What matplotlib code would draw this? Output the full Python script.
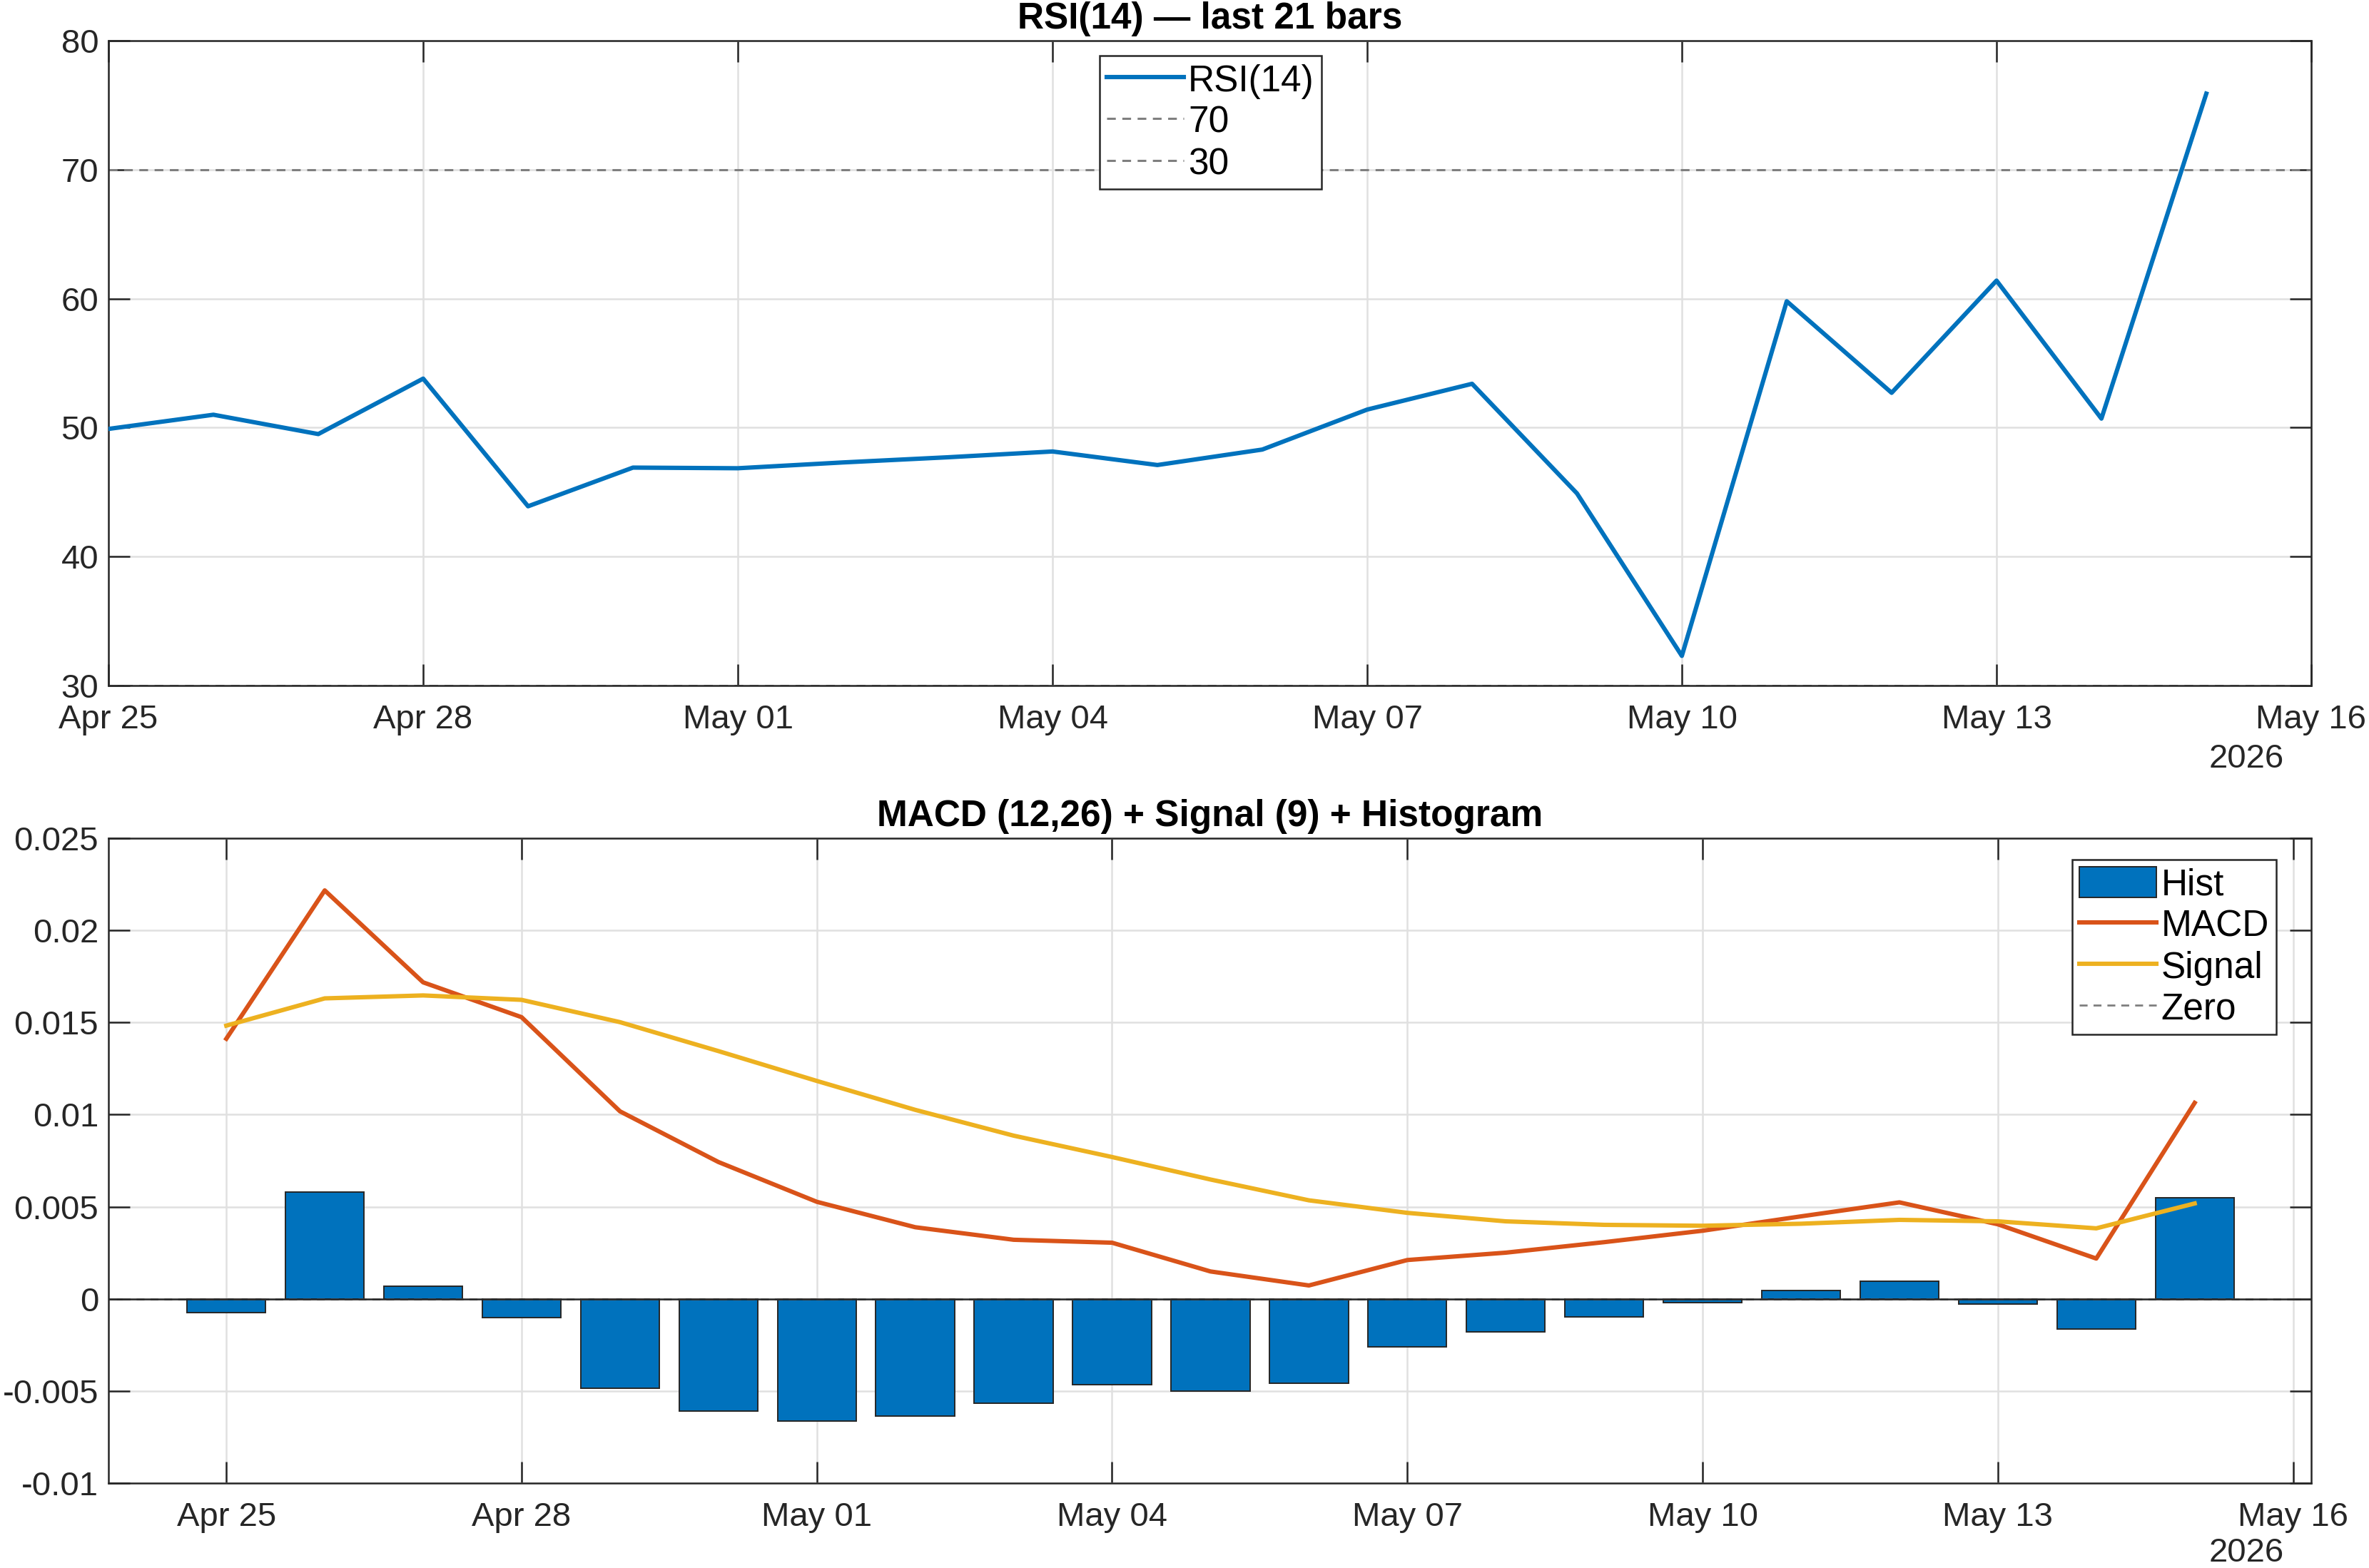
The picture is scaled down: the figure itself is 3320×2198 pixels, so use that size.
import matplotlib
matplotlib.use('Agg')
import matplotlib.pyplot as plt
import matplotlib.dates as mdates
import pandas as pd

plt.rcParams['font.family'] = ['Liberation Sans', 'DejaVu Sans']

# ---------------- data ----------------
dates = pd.date_range('2026-04-25', periods=21, freq='D')
rsi = [49.9, 51.0, 49.5, 53.8, 43.9, 46.9, 46.85, 47.3, 47.7, 48.15, 47.1,
       48.3, 51.4, 53.4, 44.9, 32.3, 59.8, 52.7, 61.4, 50.7, 75.9]
macd = [0.01412, 0.02217, 0.01718, 0.01529, 0.01018, 0.00743, 0.00527,
        0.00389, 0.00321, 0.00305, 0.00149, 0.00073, 0.00211, 0.00251,
        0.00308, 0.00370, 0.00448, 0.00524, 0.00405, 0.00219, 0.01064]
signal = [0.01483, 0.01631, 0.01647, 0.01623, 0.01502, 0.01345, 0.01183,
          0.01026, 0.00886, 0.00770, 0.00648, 0.00535, 0.00467, 0.00421,
          0.00402, 0.00397, 0.00408, 0.00429, 0.00421, 0.00383, 0.00518]
hist = [-0.00076, 0.00580, 0.00068, -0.00100, -0.00486, -0.00608, -0.00662,
        -0.00637, -0.00567, -0.00464, -0.00500, -0.00459, -0.00259, -0.00178,
        -0.00097, -0.00022, 0.00046, 0.00095, -0.00027, -0.00165, 0.00550]
rsi_levels = [70, 30]
rsi_yticks = [30, 40, 50, 60, 70, 80]
macd_yticks = [-0.01, -0.005, 0, 0.005, 0.01, 0.015, 0.02, 0.025]
macd_ytick_labels = ['-0.01', '-0.005', '0', '0.005', '0.01', '0.015', '0.02', '0.025']
xtick_dates = pd.date_range('2026-04-25', '2026-05-16', freq='3D')
year_label = '2026'

BLUE = '#0072BD'
ORANGE = '#D95319'
YELLOW = '#EDB120'
AX = '#262626'
GRID = '#e0e0e0'
FS = 17
LFS = 18.5

fig = plt.figure(figsize=(16.6, 10.99), dpi=200)
ax1 = fig.add_axes([0.0458, 0.5628, 0.9298, 0.4112])
ax2 = fig.add_axes([0.0458, 0.0541, 0.9298, 0.4113])


def style(ax):
    for s in ax.spines.values():
        s.set_color(AX)
        s.set_linewidth(0.9)
    ax.tick_params(direction='in', top=True, right=True, length=10.8, width=0.9,
                   color=AX, labelcolor=AX, labelsize=FS)
    ax.tick_params(axis='x', pad=9.3)
    ax.tick_params(axis='y', pad=5)
    ax.grid(True, color=GRID, linewidth=0.9)
    ax.set_axisbelow(True)
    ax.set_xticks(xtick_dates)
    ax.xaxis.set_major_formatter(mdates.DateFormatter('%b %d'))


def legend(ax, handles, **kw):
    leg = ax.legend(handles=handles, borderaxespad=0, fontsize=LFS, frameon=True,
                    fancybox=False, framealpha=1, edgecolor=AX, handlelength=2.1,
                    handletextpad=0.12, labelspacing=0.16, borderpad=0.2,
                    handleheight=0.9, **kw)
    leg.get_frame().set_linewidth(0.9)
    return leg


# ---------------- RSI ----------------
style(ax1)
h_rsi, = ax1.plot(dates, rsi, color=BLUE, lw=2.2, label='RSI(14)', zorder=3)
h_lv = []
for lv in rsi_levels:
    h_lv.append(ax1.axhline(lv, color='#7f7f7f', lw=1.1, ls=(0, (4, 3)),
                            label=str(lv), zorder=2))
ax1.set_ylim(30, 80)
ax1.set_yticks(rsi_yticks)
ax1.set_xlim(pd.Timestamp('2026-04-25'), pd.Timestamp('2026-05-16'))
ax1.set_title('RSI(14) — last 21 bars', fontsize=18.5, fontweight='bold', pad=6)
legend(ax1, [h_rsi] + h_lv, loc='upper center', bbox_to_anchor=(0.5003, 0.9766))
ax1.text(0.9877, -0.114, year_label, transform=ax1.transAxes, ha='right', va='center',
         fontsize=FS, color=AX)

# ---------------- MACD ----------------
style(ax2)
h_hist = ax2.bar(dates, hist, width=0.8, color=BLUE, edgecolor=AX, linewidth=0.7,
                 label='Hist', zorder=2)
h_zero = ax2.axhline(0, color='#7f7f7f', lw=1.0, ls=(0, (4, 3)), label='Zero', zorder=2.4)
ax2.axhline(0, color=AX, lw=0.9, zorder=2.5)
h_macd, = ax2.plot(dates, macd, color=ORANGE, lw=2.2, label='MACD', zorder=3)
h_sig, = ax2.plot(dates, signal, color=YELLOW, lw=2.2, label='Signal', zorder=3)
ax2.set_ylim(-0.01, 0.025)
ax2.set_yticks(macd_yticks)
ax2.set_yticklabels(macd_ytick_labels)
ax2.set_xlim(pd.Timestamp('2026-04-25') - pd.Timedelta(days=1.197),
             pd.Timestamp('2026-05-16') + pd.Timedelta(days=0.184))
ax2.set_title('MACD (12,26) + Signal (9) + Histogram', fontsize=18.5,
              fontweight='bold', pad=6)
legend(ax2, [h_hist, h_macd, h_sig, h_zero], loc='upper right',
       bbox_to_anchor=(0.9842, 0.9672))
ax2.text(0.9877, -0.108, year_label, transform=ax2.transAxes, ha='right', va='center',
         fontsize=FS, color=AX)

fig.savefig('out.png', dpi=200, facecolor='white')
